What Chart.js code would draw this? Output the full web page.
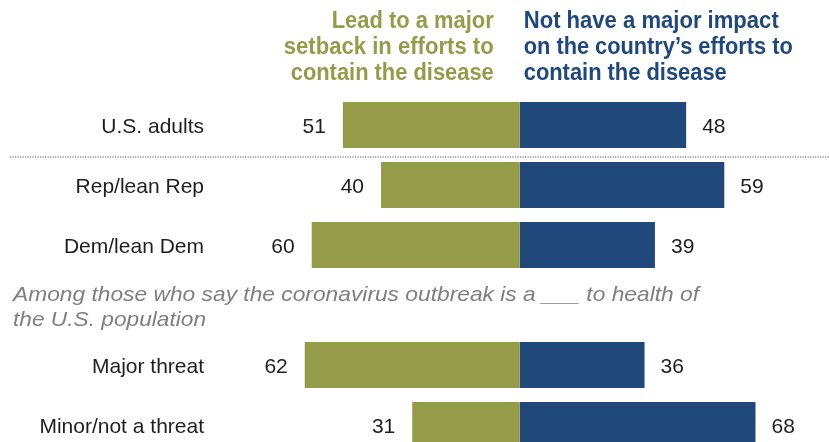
<!DOCTYPE html>
<html>
<head>
<meta charset="utf-8">
<script src="https://cdn.jsdelivr.net/npm/chart.js@4"></script>
<style>
  html, body { margin: 0; padding: 0; background: #fff; overflow: hidden; }
  #wrap { width: 829px; height: 442px; overflow: hidden; position: relative; }
  canvas { display: block; }
</style>
</head>
<body>
<div id="wrap"><canvas id="c" width="829" height="470"></canvas></div>
<script>
// ---- data ----
const categories = ['U.S. adults', 'Rep/lean Rep', 'Dem/lean Dem', '', 'Major threat', 'Minor/not a threat'];
const setbackValues = [51, 40, 60, null, 62, 31];
const noImpactValues = [48, 59, 39, null, 36, 68];
const setbackHeader = ['Lead to a major', 'setback in efforts to', 'contain the disease'];
const noImpactHeader = ['Not have a major impact', 'on the country\u2019s efforts to', 'contain the disease'];
const subtitleLines = ['Among those who say the coronavirus outbreak is a ___ to health of', 'the U.S. population'];

// ---- styling ----
const OLIVE = '#949c4a';
const NAVY = '#20487a';
const TEXT = '#1e1e1e';
const GRAY = '#7f7f7f';
const headerWidthsL = [162, 210, 203];
const headerWidthsR = [255, 269, 203];
const subtitleWidths = [686, 193];

function fitText(ctx, text, x, y, font, targetW, align) {
  ctx.save();
  ctx.font = font;
  const w = ctx.measureText(text).width;
  let s = targetW / w;
  if (!isFinite(s) || s <= 0) s = 1;
  ctx.translate(x, y);
  ctx.scale(s, 1);
  ctx.textAlign = align;
  ctx.textBaseline = 'alphabetic';
  ctx.fillText(text, 0, 0);
  ctx.restore();
}

const textPlugin = {
  id: 'texts',
  afterDraw(chart) {
    const ctx = chart.ctx;
    const xs = chart.scales.x, ys = chart.scales.y;
    const x0 = xs.getPixelForValue(0);
    // headers
    const hFont = "bold 23px 'Liberation Sans Narrow', 'Arial Narrow', 'Liberation Sans', Arial, sans-serif";
    for (let i = 0; i < 3; i++) {
      const by = 28 + i * 26;
      ctx.fillStyle = OLIVE;
      fitText(ctx, setbackHeader[i], x0 - 26, by, hFont, headerWidthsL[i], 'right');
      ctx.fillStyle = NAVY;
      fitText(ctx, noImpactHeader[i], x0 + 4, by, hFont, headerWidthsR[i], 'left');
    }
    // category labels & values
    ctx.save();
    ctx.font = "21px 'Liberation Sans', Arial, sans-serif";
    ctx.fillStyle = TEXT;
    ctx.textBaseline = 'alphabetic';
    categories.forEach((lab, i) => {
      if (!lab) return;
      const cy = ys.getPixelForValue(i);
      ctx.textAlign = 'right';
      ctx.fillText(lab, 204, cy + 7.5);
      const lv = setbackValues[i], rv = noImpactValues[i];
      if (lv != null) {
        ctx.textAlign = 'right';
        ctx.fillText(String(lv), xs.getPixelForValue(-lv) - 17, cy + 7.5);
      }
      if (rv != null) {
        ctx.textAlign = 'left';
        ctx.fillText(String(rv), xs.getPixelForValue(rv) + 16, cy + 7.5);
      }
    });
    ctx.restore();
    // dotted separator between slot 0 and 1
    const sepY = (ys.getPixelForValue(0) + ys.getPixelForValue(1)) / 2 + 2;
    ctx.save();
    ctx.strokeStyle = '#8c8c8c';
    ctx.lineWidth = 1.5;
    ctx.setLineDash([1.2, 1.3]);
    ctx.beginPath();
    ctx.moveTo(10, sepY);
    ctx.lineTo(829, sepY);
    ctx.stroke();
    ctx.restore();
    // subtitle in blank slot
    const sy = ys.getPixelForValue(3);
    ctx.fillStyle = GRAY;
    const sFont = "italic 21px 'Liberation Sans', Arial, sans-serif";
    fitText(ctx, subtitleLines[0], 13, sy - 4, sFont, subtitleWidths[0], 'left');
    fitText(ctx, subtitleLines[1], 13, sy + 21, sFont, subtitleWidths[1], 'left');
  }
};

new Chart(document.getElementById('c'), {
  type: 'bar',
  data: {
    labels: categories,
    datasets: [
      { label: 'Lead to a major setback', data: setbackValues.map(v => v == null ? null : -v), backgroundColor: OLIVE, borderWidth: 0 },
      { label: 'Not have a major impact', data: noImpactValues, backgroundColor: NAVY, borderWidth: 0 }
    ]
  },
  options: {
    indexAxis: 'y',
    responsive: false,
    animation: false,
    events: [],
    layout: { padding: { top: 95, bottom: 15, left: 0, right: 0 } },
    datasets: { bar: { categoryPercentage: 1, barPercentage: 46 / 60 } },
    scales: {
      x: { stacked: true, display: false, min: -149.9, max: 89.2 },
      y: { stacked: true, display: false }
    },
    plugins: { legend: { display: false }, tooltip: { enabled: false } }
  },
  plugins: [textPlugin]
});
</script>
</body>
</html>
